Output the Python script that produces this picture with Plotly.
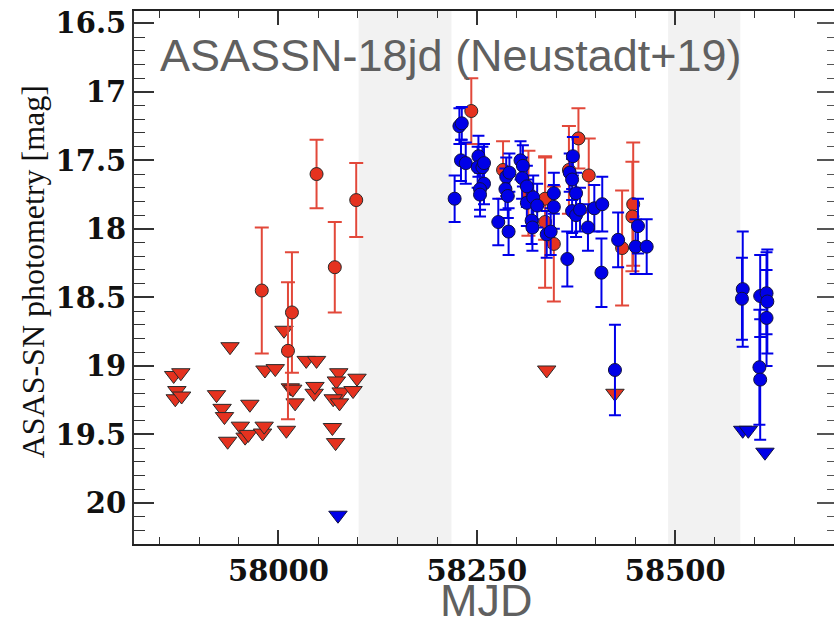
import plotly.graph_objects as go

# ---------------- data ----------------
# Red detections: MJD, magnitude, error
red_det_mjd = [57979, 58012, 58017, 58048, 58071, 58098, 58243, 58283, 58315,
               58336, 58336, 58347, 58366, 58378, 58391, 58433, 58447, 58446]
red_det_mag = [18.45, 18.89, 18.61, 17.60, 18.28, 17.79, 17.14, 17.57, 17.74,
               17.78, 17.95, 18.11, 17.57, 17.34, 17.61, 18.14, 17.82, 17.91]
red_det_err = [0.46, 0.50, 0.44, 0.25, 0.33, 0.27, 0.24, 0.21, 0.31,
               0.30, 0.48, 0.42, 0.32, 0.22, 0.27, 0.42, 0.45, 0.40]

# Red upper limits: MJD, magnitude
red_lim_mjd = [57868, 57877, 57872, 57870, 57878, 57939, 57922, 57929, 57932,
               57936, 57952, 57958, 57962, 57964, 57980, 57982, 57983, 57996,
               58010, 58007, 58015, 58018, 58021, 58035, 58048, 58045, 58046,
               58068, 58072, 58076, 58073, 58079, 58069, 58077, 58094, 58099,
               58338, 58424]
red_lim_mag = [19.07, 19.05, 19.18, 19.24, 19.22, 18.86, 19.21, 19.31, 19.37,
               19.55, 19.44, 19.52, 19.50, 19.28, 19.49, 19.44, 19.03, 19.02,
               19.47, 18.74, 19.16, 19.17, 19.27, 18.96, 18.96, 19.20, 19.15,
               19.45, 19.56, 19.05, 19.11, 19.19, 19.24, 19.27, 19.18, 19.09,
               19.03, 19.20]

# Blue detections: MJD, magnitude, error
blue_det_mjd = [58222, 58228, 58231, 58230, 58236, 58252, 58251, 58257, 58259,
                58259, 58254, 58254, 58277, 58287, 58291, 58286, 58289, 58290,
                58305, 58308, 58307, 58313, 58313, 58321, 58326, 58319, 58320,
                58338, 58343, 58347, 58347, 58364, 58367, 58370, 58371, 58375,
                58370, 58375, 58380, 58390, 58398, 58408, 58407, 58428, 58453,
                58450, 58464, 58424, 58585, 58584, 58607, 58615, 58616, 58615,
                58606, 58607]
blue_det_mag = [17.78, 17.25, 17.23, 17.50, 17.52, 17.47, 17.55, 17.55, 17.52,
                17.67, 17.71, 17.75, 17.95, 17.62, 17.59, 17.71, 17.76, 18.02,
                17.50, 17.54, 17.63, 17.69, 17.81, 17.77, 17.83, 17.94, 17.99,
                18.04, 18.02, 17.74, 17.84, 18.22, 17.59, 17.64, 17.47, 17.74,
                17.87, 17.90, 17.86, 17.99, 17.85, 17.82, 18.32, 18.08, 17.98,
                18.13, 18.13, 19.03, 18.44, 18.51, 18.49, 18.47, 18.53, 18.65,
                19.01, 19.10]
blue_det_err = [0.17, 0.13, 0.12, 0.15, 0.15, 0.15, 0.15, 0.15, 0.14,
                0.15, 0.15, 0.16, 0.17, 0.14, 0.14, 0.15, 0.16, 0.17,
                0.14, 0.15, 0.15, 0.15, 0.17, 0.16, 0.16, 0.17, 0.17,
                0.17, 0.17, 0.15, 0.16, 0.20, 0.14, 0.15, 0.14, 0.15,
                0.16, 0.16, 0.16, 0.17, 0.17, 0.20, 0.25, 0.20, 0.20,
                0.20, 0.20, 0.33, 0.42, 0.30, 0.30, 0.30, 0.38, 0.35,
                0.42, 0.44]

# Blue upper limits
blue_lim_mjd = [58075, 58585, 58592, 58613]
blue_lim_mag = [20.09, 19.47, 19.47, 19.63]

# Seasonal gaps (shaded)
gap_starts = [58101, 58491]
gap_ends = [58218, 58582]

# Axis ticks
x_range = [57818, 58700]
y_range = [20.30, 16.41]
x_tick_vals = [58000, 58250, 58500]
x_tick_text = ["58000", "58250", "58500"]
y_tick_vals = [16.5, 17.0, 17.5, 18.0, 18.5, 19.0, 19.5, 20.0]
y_tick_text = ["16.5", "17", "17.5", "18", "18.5", "19", "19.5", "20"]

title_text = "ASASSN-18jd (Neustadt+19)"
x_title = "MJD"
y_title = "ASAS-SN photometry [mag]"

# ---------------- styles ----------------
RED = "#e5321f"
RED_BAR = "#e2483a"
BLUE = "#0000e8"
EDGE = "#2a2a2a"

fig = go.Figure()

fig.add_trace(go.Scatter(
    x=red_lim_mjd, y=red_lim_mag, mode="markers",
    marker=dict(symbol="triangle-down", size=16, color=RED,
                line=dict(color=EDGE, width=1)),
    showlegend=False))

fig.add_trace(go.Scatter(
    x=red_det_mjd, y=red_det_mag, mode="markers",
    error_y=dict(type="data", array=red_det_err, color=RED_BAR,
                 thickness=2, width=7),
    marker=dict(symbol="circle", size=13, color=RED,
                line=dict(color=EDGE, width=1)),
    showlegend=False))

fig.add_trace(go.Scatter(
    x=blue_lim_mjd, y=blue_lim_mag, mode="markers",
    marker=dict(symbol="triangle-down", size=16, color=BLUE,
                line=dict(color="#101040", width=1)),
    showlegend=False))

fig.add_trace(go.Scatter(
    x=blue_det_mjd, y=blue_det_mag, mode="markers",
    error_y=dict(type="data", array=blue_det_err, color=BLUE,
                 thickness=2, width=6),
    marker=dict(symbol="circle", size=13, color=BLUE,
                line=dict(color="#101040", width=1)),
    showlegend=False))

# empty trace so the right-hand tick axis is drawn
fig.add_trace(go.Scatter(x=[], y=[], yaxis="y2", showlegend=False,
                         hoverinfo="skip"))

shapes = []
for s, e in zip(gap_starts, gap_ends):
    shapes.append(dict(type="rect", xref="x", yref="paper", x0=s, x1=e,
                       y0=0, y1=1, fillcolor="#f2f2f2", line=dict(width=0),
                       layer="below"))

tickfont = dict(family="DejaVu Serif", size=29, color="#111", weight="bold")
sans = "Liberation Sans, Arial, sans-serif"

fig.update_layout(
    width=834, height=624,
    margin=dict(l=134, r=0, t=11, b=80),
    paper_bgcolor="white", plot_bgcolor="white",
    shapes=shapes,
    xaxis=dict(range=x_range, tickmode="array",
               tickvals=x_tick_vals, ticktext=x_tick_text,
               ticks="inside", ticklen=14, tickwidth=1.5, tickcolor="#333",
               minor=dict(tickmode="linear", tick0=57800, dtick=50,
                          ticks="inside", ticklen=7, tickwidth=1.2,
                          tickcolor="#333"),
               showline=True, linewidth=2, linecolor="#222", mirror="ticks",
               showgrid=False, zeroline=False, tickfont=tickfont),
    yaxis=dict(range=y_range, tickmode="array",
               tickvals=y_tick_vals, ticktext=y_tick_text,
               ticks="inside", ticklen=20, tickwidth=1.5, tickcolor="#333",
               minor=dict(tickmode="linear", tick0=16.5, dtick=0.1,
                          ticks="inside", ticklen=11, tickwidth=1.2,
                          tickcolor="#333"),
               showline=True, linewidth=2, linecolor="#333", mirror=False,
               showgrid=False, zeroline=False, tickfont=tickfont),
    yaxis2=dict(range=y_range, overlaying="y", side="right",
                tickmode="array", tickvals=y_tick_vals,
                showticklabels=False,
                ticks="inside", ticklen=17, tickwidth=1.5, tickcolor="#555",
                minor=dict(tickmode="linear", tick0=16.5, dtick=0.1,
                           ticks="inside", ticklen=7, tickwidth=1.2,
                           tickcolor="#555"),
                showline=False, showgrid=False, zeroline=False),
    annotations=[
        dict(text=title_text, xref="paper", yref="paper",
             x=0.034, y=0.9156, xanchor="left", yanchor="middle",
             showarrow=False,
             font=dict(family=sans, size=45, color="#606060")),
        dict(text=x_title, xref="paper", yref="paper",
             x=0.503, y=-0.106, xanchor="center", yanchor="middle",
             showarrow=False, borderpad=0,
             font=dict(family=sans, size=45, color="#606060")),
        dict(text=y_title, xref="paper", yref="paper",
             x=-0.144, y=0.51, xanchor="center", yanchor="middle",
             textangle=-90, showarrow=False,
             font=dict(family="Liberation Serif", size=32, color="#111")),
    ],
)

fig.write_html("out.html")
